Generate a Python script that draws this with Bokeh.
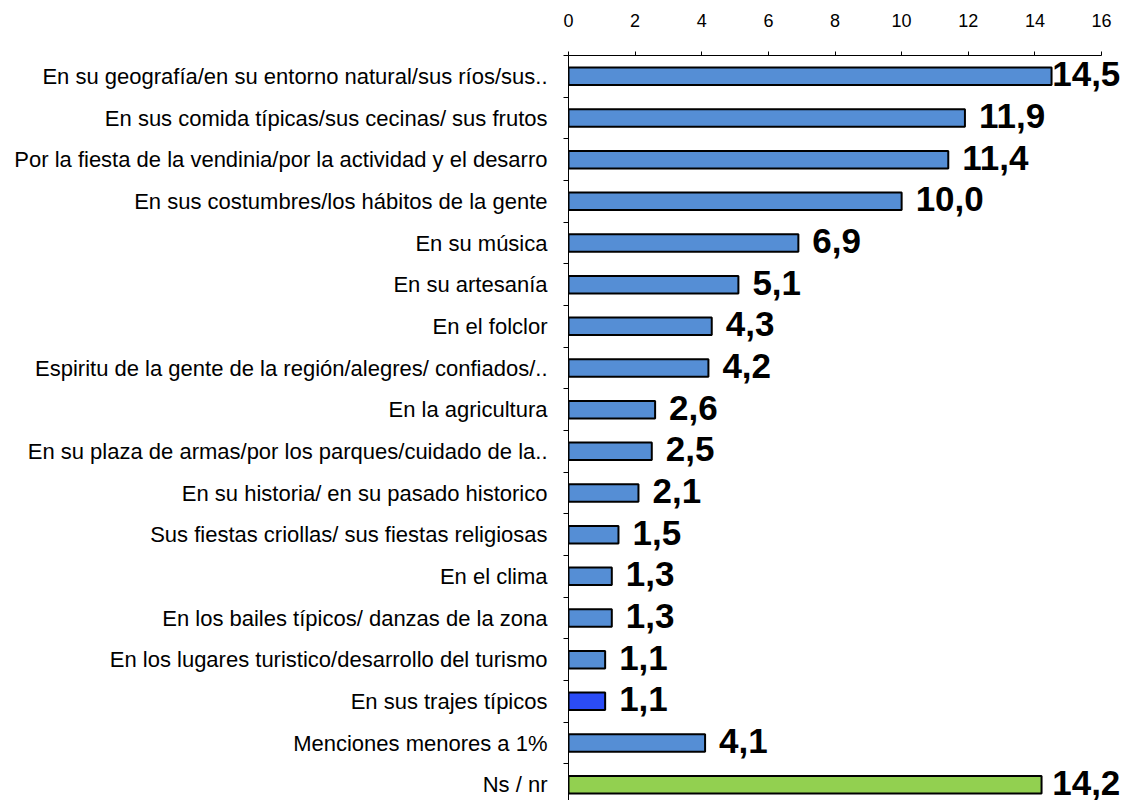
from bokeh.plotting import figure
from bokeh.models import ColumnDataSource, Range1d, FixedTicker, CustomJSTickFormatter
from bokeh.core.properties import value
from bokeh.embed import file_html
from bokeh.resources import INLINE

categories = [
    "En su geografía/en su entorno natural/sus ríos/sus..",
    "En sus comida típicas/sus cecinas/ sus frutos",
    "Por la fiesta de la vendinia/por la actividad y el desarro",
    "En sus costumbres/los hábitos de la gente",
    "En su música",
    "En su artesanía",
    "En el folclor",
    "Espiritu de la gente de la región/alegres/ confiados/..",
    "En la agricultura",
    "En su plaza de armas/por los parques/cuidado de la..",
    "En su historia/ en su pasado historico",
    "Sus fiestas criollas/ sus fiestas religiosas",
    "En el clima",
    "En los bailes típicos/ danzas de la zona",
    "En los lugares turistico/desarrollo del turismo",
    "En sus trajes típicos",
    "Menciones menores a 1%",
    "Ns / nr",
]
values = [14.5, 11.9, 11.4, 10.0, 6.9, 5.1, 4.3, 4.2, 2.6, 2.5, 2.1, 1.5, 1.3, 1.3, 1.1, 1.1, 4.1, 14.2]
bar_colors = ["#558ED5"] * 15 + ["#2B4CF6", "#558ED5", "#92D050"]
x_ticks = [0, 2, 4, 6, 8, 10, 12, 14, 16]

n = len(categories)
ys = [-i for i in range(n)]
labels = [f"{v:.1f}".replace(".", ",") for v in values]
label_x = [min(v + 0.42, 14.52) for v in values]

src = ColumnDataSource(dict(y=ys, v=values, c=bar_colors, lab=labels, lx=label_x))

FONT = "Liberation Sans"

p = figure(width=1125, height=800, output_backend="svg", toolbar_location=None,
           x_range=Range1d(0, 16.72), y_range=Range1d(-17.38, 0.5),
           x_axis_location="above", min_border_left=568, min_border_right=0,
           min_border_top=55, min_border_bottom=0)
p.outline_line_color = None
p.grid.visible = False
p.background_fill_color = "white"
p.border_fill_color = "white"

p.hbar(y="y", left=0, right="v", height=0.42, fill_color="c", line_color="black",
       line_width=2, source=src)
p.text(x="lx", y="y", text="lab", source=src, text_font=value(FONT),
       text_font_style="bold", text_font_size="35px", text_baseline="middle",
       text_align="left", text_color="black", y_offset=-2)

xa = p.xaxis[0]
xa.ticker = FixedTicker(ticks=x_ticks)
xa.bounds = (0, 16)
xa.axis_line_color = "black"
xa.axis_line_width = 1
xa.major_tick_out = 4
xa.major_tick_in = 0
xa.major_tick_line_color = "black"
xa.minor_tick_line_color = None
xa.major_label_text_font = FONT
xa.major_label_text_font_size = "18px"
xa.major_label_text_color = "black"
xa.major_label_standoff = 25

ya = p.yaxis[0]
ya.ticker = FixedTicker(ticks=ys, minor_ticks=[0.5 - i for i in range(n)])
ya.formatter = CustomJSTickFormatter(args=dict(labels=categories),
                                     code="return labels[Math.round(-tick)] || '';")
ya.axis_line_color = "black"
ya.axis_line_width = 1
ya.major_tick_out = 0
ya.major_tick_in = 0
ya.minor_tick_out = 5
ya.minor_tick_in = 0
ya.minor_tick_line_color = "black"
ya.major_label_text_font = FONT
ya.major_label_text_font_size = "22px"
ya.major_label_text_color = "black"
ya.major_label_standoff = 16

open("out.html", "w").write(file_html(p, INLINE))
